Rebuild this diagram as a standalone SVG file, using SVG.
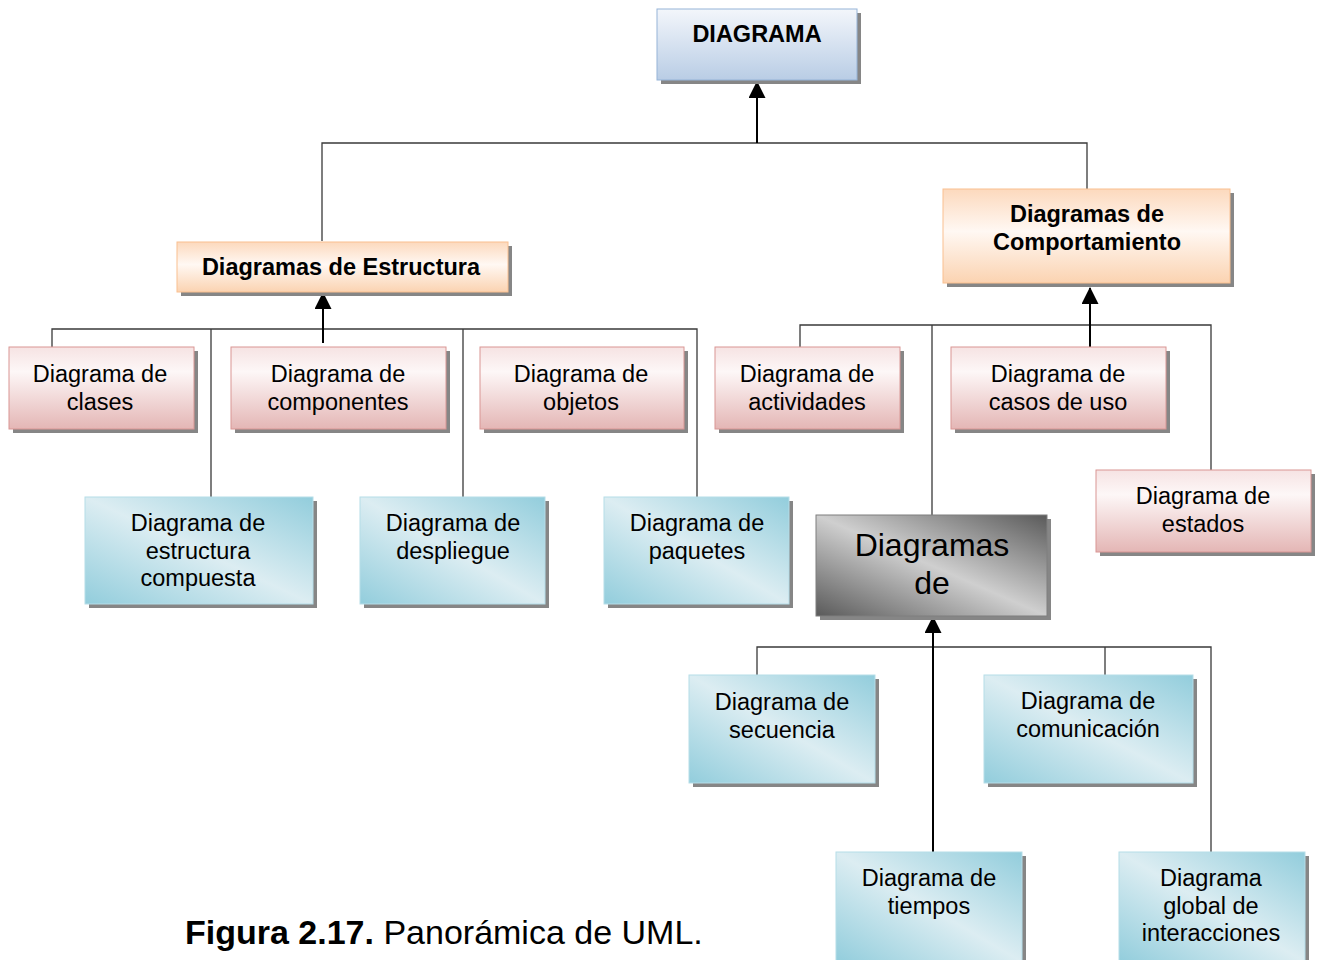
<svg xmlns="http://www.w3.org/2000/svg" width="1319" height="960" viewBox="0 0 1319 960">
  <defs>
    <linearGradient id="gBlueTop" x1="0" y1="0" x2="0" y2="1">
      <stop offset="0" stop-color="#f3f6fb"/>
      <stop offset="1" stop-color="#b9cde5"/>
    </linearGradient>
    <linearGradient id="gPeach" x1="0" y1="0" x2="0" y2="1">
      <stop offset="0" stop-color="#fcd9bd"/>
      <stop offset="0.45" stop-color="#fff8f3"/>
      <stop offset="1" stop-color="#fbd3b1"/>
    </linearGradient>
    <linearGradient id="gPink" x1="0" y1="0" x2="0" y2="1">
      <stop offset="0" stop-color="#f6e3e3"/>
      <stop offset="0.3" stop-color="#fdf7f7"/>
      <stop offset="1" stop-color="#e4b6b5"/>
    </linearGradient>
    <linearGradient id="gCyan" x1="1" y1="0" x2="0" y2="1">
      <stop offset="0" stop-color="#92cddc"/>
      <stop offset="0.5" stop-color="#dcedf2"/>
      <stop offset="1" stop-color="#92cddc"/>
    </linearGradient>
    <linearGradient id="gGrey" x1="1" y1="0" x2="0" y2="1">
      <stop offset="0" stop-color="#5a5a5a"/>
      <stop offset="0.5" stop-color="#cfcfcf"/>
      <stop offset="1" stop-color="#5a5a5a"/>
    </linearGradient>
    <marker id="arrow" markerUnits="userSpaceOnUse" markerWidth="17" markerHeight="17" viewBox="0 0 16 16" refX="15" refY="8" orient="auto">
      <path d="M0,0 L16,8 L0,16 z" fill="#000"/>
    </marker>
  </defs>
  <style>
    .shadow { fill: #868686; }
    .top { fill: url(#gBlueTop); stroke: #95b3d7; stroke-width: 1; }
    .peach { fill: url(#gPeach); stroke: #fac090; stroke-width: 1; }
    .pink { fill: url(#gPink); stroke: #d99694; stroke-width: 1; }
    .cyan { fill: url(#gCyan); stroke: #b6dde8; stroke-width: 1; }
    .grey { fill: url(#gGrey); stroke: #7f7f7f; stroke-width: 1; }
    text { font-family: "Liberation Sans", Arial, sans-serif; fill: #000; text-anchor: middle; }
    .b { font-weight: bold; font-size: 23.5px; }
    .r { font-size: 23.5px; }
    .big { font-size: 32px; }
    .caption { text-anchor: start; font-size: 34px; }
    .wire { fill: none; stroke: #3a3a3a; stroke-width: 1.3; }
    .stem { fill: none; stroke: #000; stroke-width: 2; marker-end: url(#arrow); }
  </style>

  <!-- connectors -->
  <g id="connectors">
    <path class="wire" d="M322,241 V143 H1087 V190"/>
    <line class="stem" x1="757" y1="143" x2="757" y2="82"/>
    <path class="wire" d="M52,347 V329 H697 V497 M211,329 V497 M463,329 V497"/>
    <line class="stem" x1="323" y1="343" x2="323" y2="293"/>
    <path class="wire" d="M800,347 V325 H1211 V470 M932,325 V515"/>
    <line class="stem" x1="1090" y1="347" x2="1090" y2="288"/>
    <path class="wire" d="M757,676 V647 H1211 V852 M1105,647 V676 M933,852 V640"/>
    <line class="stem" x1="933" y1="852" x2="933" y2="617"/>
  </g>

  <!-- root -->
  <g id="diagrama">
    <rect class="shadow" x="661" y="13" width="200" height="71"/>
    <rect class="top" x="657" y="9" width="200" height="71"/>
    <text class="b" x="757" y="42">DIAGRAMA</text>
  </g>

  <g id="estructura">
    <rect class="shadow" x="181" y="246" width="331" height="50"/>
    <rect class="peach" x="177" y="242" width="331" height="50"/>
    <text class="b" x="341" y="275">Diagramas de Estructura</text>
  </g>

  <g id="comportamiento">
    <rect class="shadow" x="947" y="193" width="287" height="94"/>
    <rect class="peach" x="943" y="189" width="287" height="94"/>
    <text class="b" x="1087" y="222">Diagramas de</text>
    <text class="b" x="1087" y="250">Comportamiento</text>
  </g>

  <!-- structure diagrams -->
  <g id="clases">
    <rect class="shadow" x="13" y="351" width="185" height="82"/>
    <rect class="pink" x="9" y="347" width="185" height="82"/>
    <text class="r" x="100" y="382">Diagrama de</text>
    <text class="r" x="100" y="410">clases</text>
  </g>
  <g id="componentes">
    <rect class="shadow" x="235" y="351" width="215" height="82"/>
    <rect class="pink" x="231" y="347" width="215" height="82"/>
    <text class="r" x="338" y="382">Diagrama de</text>
    <text class="r" x="338" y="410">componentes</text>
  </g>
  <g id="objetos">
    <rect class="shadow" x="484" y="351" width="204" height="82"/>
    <rect class="pink" x="480" y="347" width="204" height="82"/>
    <text class="r" x="581" y="382">Diagrama de</text>
    <text class="r" x="581" y="410">objetos</text>
  </g>
  <g id="estructura-compuesta">
    <rect class="shadow" x="89" y="501" width="228" height="107"/>
    <rect class="cyan" x="85" y="497" width="228" height="107"/>
    <text class="r" x="198" y="531">Diagrama de</text>
    <text class="r" x="198" y="559">estructura</text>
    <text class="r" x="198" y="586">compuesta</text>
  </g>
  <g id="despliegue">
    <rect class="shadow" x="364" y="501" width="185" height="107"/>
    <rect class="cyan" x="360" y="497" width="185" height="107"/>
    <text class="r" x="453" y="531">Diagrama de</text>
    <text class="r" x="453" y="559">despliegue</text>
  </g>
  <g id="paquetes">
    <rect class="shadow" x="608" y="501" width="185" height="107"/>
    <rect class="cyan" x="604" y="497" width="185" height="107"/>
    <text class="r" x="697" y="531">Diagrama de</text>
    <text class="r" x="697" y="559">paquetes</text>
  </g>

  <!-- behaviour diagrams -->
  <g id="actividades">
    <rect class="shadow" x="719" y="351" width="185" height="82"/>
    <rect class="pink" x="715" y="347" width="185" height="82"/>
    <text class="r" x="807" y="382">Diagrama de</text>
    <text class="r" x="807" y="410">actividades</text>
  </g>
  <g id="casos-de-uso">
    <rect class="shadow" x="955" y="351" width="215" height="82"/>
    <rect class="pink" x="951" y="347" width="215" height="82"/>
    <text class="r" x="1058" y="382">Diagrama de</text>
    <text class="r" x="1058" y="410">casos de uso</text>
  </g>
  <g id="estados">
    <rect class="shadow" x="1100" y="474" width="215" height="82"/>
    <rect class="pink" x="1096" y="470" width="215" height="82"/>
    <text class="r" x="1203" y="504">Diagrama de</text>
    <text class="r" x="1203" y="532">estados</text>
  </g>
  <g id="interaccion">
    <rect class="shadow" x="820" y="519" width="231" height="101"/>
    <rect class="grey" x="816" y="515" width="231" height="101"/>
    <text class="big" x="932" y="556">Diagramas</text>
    <text class="big" x="932" y="594">de</text>
  </g>

  <!-- interaction diagrams -->
  <g id="secuencia">
    <rect class="shadow" x="693" y="679" width="186" height="108"/>
    <rect class="cyan" x="689" y="675" width="186" height="108"/>
    <text class="r" x="782" y="710">Diagrama de</text>
    <text class="r" x="782" y="738">secuencia</text>
  </g>
  <g id="comunicacion">
    <rect class="shadow" x="988" y="679" width="209" height="108"/>
    <rect class="cyan" x="984" y="675" width="209" height="108"/>
    <text class="r" x="1088" y="709">Diagrama de</text>
    <text class="r" x="1088" y="737">comunicación</text>
  </g>
  <g id="tiempos">
    <rect class="shadow" x="840" y="856" width="186" height="110"/>
    <rect class="cyan" x="836" y="852" width="186" height="110"/>
    <text class="r" x="929" y="886">Diagrama de</text>
    <text class="r" x="929" y="914">tiempos</text>
  </g>
  <g id="global">
    <rect class="shadow" x="1123" y="856" width="186" height="110"/>
    <rect class="cyan" x="1119" y="852" width="186" height="110"/>
    <text class="r" x="1211" y="886">Diagrama</text>
    <text class="r" x="1211" y="914">global de</text>
    <text class="r" x="1211" y="941">interacciones</text>
  </g>

  <text class="caption" x="185" y="944"><tspan font-weight="bold">Figura 2.17.</tspan> Panorámica de UML.</text>
</svg>
